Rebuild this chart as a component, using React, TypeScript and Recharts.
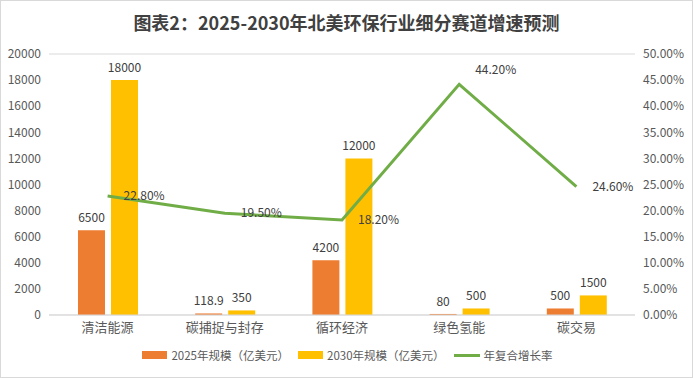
import React from "react";
import {
  ComposedChart,
  Bar,
  Line,
  XAxis,
  YAxis,
  CartesianGrid,
  Legend,
  LabelList,
} from "recharts";

const categories = ["清洁能源", "碳捕捉与封存", "循环经济", "绿色氢能", "碳交易"];
const size2025 = [6500, 118.9, 4200, 80, 500];
const size2030 = [18000, 350, 12000, 500, 1500];
const cagr = [0.228, 0.195, 0.182, 0.442, 0.246];

const leftTicks = [0, 2000, 4000, 6000, 8000, 10000, 12000, 14000, 16000, 18000, 20000];
const rightTicks = [0, 0.05, 0.1, 0.15, 0.2, 0.25, 0.3, 0.35, 0.4, 0.45, 0.5];

const data = categories.map((name, i) => ({
  name,
  a: size2025[i],
  b: size2030[i],
  rate: cagr[i],
}));

const FONT = '"Microsoft YaHei", "Noto Sans CJK SC", sans-serif';
const ink = "#595959";

const pct = (v: number) => (v * 100).toFixed(2) + "%";

function RateLabel(props: any) {
  const { x, y, value } = props;
  const peak = value === Math.max(...cagr);
  return (
    <text
      x={x + 16}
      y={peak ? y - 14 : y}
      dy={4}
      fontSize={12}
      fill="#404040"
      fontFamily={FONT}
    >
      {pct(value)}
    </text>
  );
}

// excel style legend: wide swatches, grey text
function LegendBox(props: any) {
  const items = props.payload || [];
  return (
    <div style={{ display: "flex", justifyContent: "center", gap: 9, fontSize: 11.5, color: ink, height: 20, alignItems: "center" }}>
      {items.map((it: any) => (
        <span key={it.value} style={{ display: "flex", alignItems: "center", gap: 4 }}>
          {it.type === "line" ? (
            <span style={{ width: 26, height: 3, background: it.color, display: "inline-block" }} />
          ) : (
            <span style={{ width: 25, height: 8, background: it.color, display: "inline-block" }} />
          )}
          {it.value}
        </span>
      ))}
    </div>
  );
}

export default function App() {
  return (
    <div
      style={{
        position: "absolute",
        left: 0,
        top: 0,
        width: 693,
        height: 378,
        background: "#fff",
        fontFamily: FONT,
        boxSizing: "border-box",
        border: "1px solid #d9d9d9",
      }}
    >
      <div
        style={{
          position: "absolute",
          top: 8,
          width: "100%",
          textAlign: "center",
          fontSize: 18,
          fontWeight: "bold",
          color: "#404040",
        }}
      >
        图表2：2025-2030年北美环保行业细分赛道增速预测
      </div>
      <ComposedChart
        width={693}
        height={378}
        data={data}
        margin={{ top: 53, right: 0, left: 0, bottom: 14 }}
        barGap={6}
      >
        <CartesianGrid vertical={false} stroke="#d9d9d9" />
        <XAxis
          dataKey="name"
          tickLine={false}
          axisLine={{ stroke: "#d9d9d9" }}
          tick={{ fill: ink, fontSize: 13, fontFamily: FONT }}
          height={30}
          interval={0}
        />
        <YAxis
          yAxisId="left"
          domain={[0, 20000]}
          ticks={leftTicks}
          width={48}
          tickLine={false}
          axisLine={false}
          tick={{ fill: ink, fontSize: 12, fontFamily: FONT }}
          interval={0}
        />
        <YAxis
          yAxisId="right"
          orientation="right"
          domain={[0, 0.5]}
          ticks={rightTicks}
          tickFormatter={pct}
          width={59}
          tickLine={false}
          axisLine={false}
          tick={{ fill: ink, fontSize: 12, fontFamily: FONT }}
          interval={0}
        />
        <Legend verticalAlign="bottom" content={<LegendBox />} />
        <Bar
          yAxisId="left"
          dataKey="a"
          name="2025年规模（亿美元）"
          fill="#ED7D31"
          barSize={27}
          isAnimationActive={false}
          legendType="rect"
        >
          <LabelList dataKey="a" position="top" offset={8} fill="#404040" fontSize={12} />
        </Bar>
        <Bar
          yAxisId="left"
          dataKey="b"
          name="2030年规模（亿美元）"
          fill="#FFC000"
          barSize={27}
          isAnimationActive={false}
          legendType="rect"
        >
          <LabelList dataKey="b" position="top" offset={8} fill="#404040" fontSize={12} />
        </Bar>
        <Line
          yAxisId="right"
          dataKey="rate"
          name="年复合增长率"
          stroke="#70AD47"
          strokeWidth={3}
          dot={false}
          isAnimationActive={false}
          legendType="line"
        >
          <LabelList dataKey="rate" content={<RateLabel />} />
        </Line>
      </ComposedChart>
    </div>
  );
}
